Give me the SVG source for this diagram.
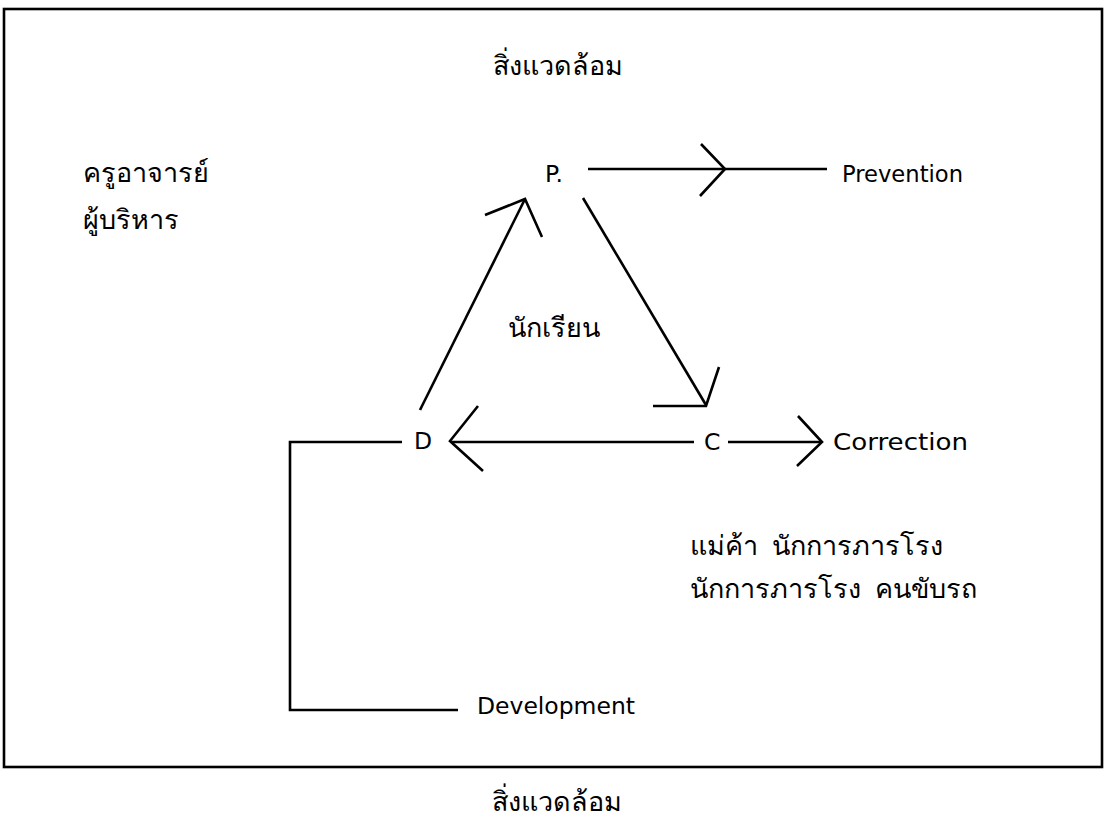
<svg xmlns="http://www.w3.org/2000/svg" width="1108" height="825" viewBox="0 0 1108 825">
<style>
.th{font-family:"Noto Sans","DejaVu Sans",sans-serif;font-size:27px;fill:#000;white-space:pre}
.en{font-family:"DejaVu Sans","Liberation Sans",sans-serif;font-size:23.5px;fill:#000}
.ln{stroke:#000;stroke-width:2.6;fill:none;stroke-linecap:butt;stroke-linejoin:miter}
</style>
<rect width="1108" height="825" fill="#fff"/>
<g id="frame"><rect x="4" y="9" width="1098" height="758" class="ln"/></g>
<g id="env-top"><text class="th" x="623" y="75" text-anchor="end">สิ่งแวดล้อม</text></g>
<g id="env-bottom"><text class="th" x="622" y="811" text-anchor="end">สิ่งแวดล้อม</text></g>
<g id="teachers"><text class="th" x="83" y="182">ครูอาจารย์</text><text class="th" x="83" y="229">ผู้บริหาร</text></g>
<g id="node-p"><text class="en" x="545" y="182">P.</text></g>
<g id="node-d"><text class="en" x="414" y="449">D</text></g>
<g id="node-c"><text class="en" x="704" y="450">C</text></g>
<g id="prevention"><text class="en" x="842" y="182" textLength="121" lengthAdjust="spacingAndGlyphs">Prevention</text></g>
<g id="correction"><text class="en" x="833" y="450" textLength="135" lengthAdjust="spacingAndGlyphs">Correction</text></g>
<g id="development"><text class="en" x="477" y="714" textLength="158" lengthAdjust="spacingAndGlyphs">Development</text></g>
<g id="students"><text class="th" x="508" y="337">นักเรียน</text></g>
<g id="others"><text class="th" x="690" y="555">แม่ค้า  นักการภารโรง</text><text class="th" x="690" y="598">นักการภารโรง  คนขับรถ</text></g>
<g id="connectors">
<path class="ln" d="M588 169H827"/>
<path class="ln" d="M701 144L725 169L700 196"/>
<path class="ln" d="M420 410L525 199"/>
<path class="ln" d="M485 215L525 199L542 237"/>
<path class="ln" d="M583 198L706 405"/>
<path class="ln" d="M653 406H706L719 367"/>
<path class="ln" d="M452 442H694"/>
<path class="ln" d="M478 406L450 441L483 471"/>
<path class="ln" d="M728 442H822"/>
<path class="ln" d="M798 416L822 442L797 466"/>
<path class="ln" d="M402 442H290V710H458"/>
</g>
</svg>
